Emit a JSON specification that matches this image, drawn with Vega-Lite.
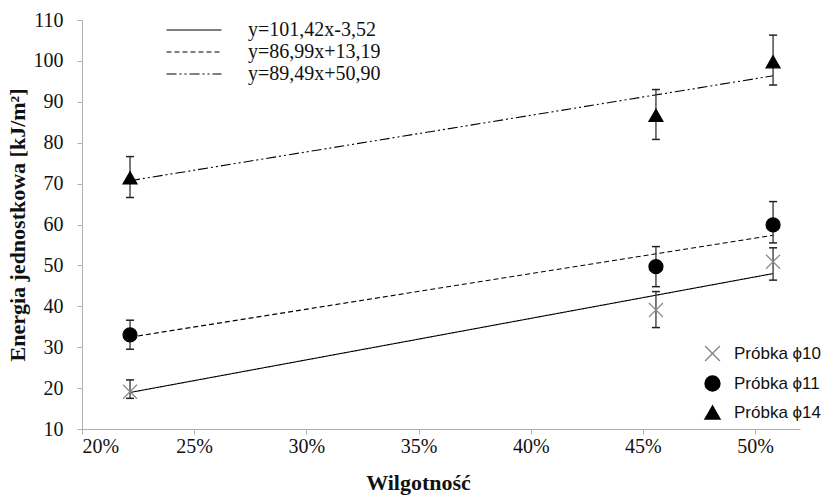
{
  "$schema": "https://vega.github.io/schema/vega-lite/v6.json",
  "width": 718,
  "height": 409,
  "autosize": {"type": "none"},
  "padding": {"left": 82, "top": 20, "right": 28, "bottom": 74},
  "background": "white",
  "config": {
    "view": {"stroke": null},
    "font": "Liberation Serif",
    "axis": {
      "grid": false,
      "domainColor": "#b0b0b0",
      "tickColor": "#b0b0b0",
      "tickSize": 5,
      "labelFont": "Liberation Serif",
      "labelFontSize": 20,
      "labelColor": "#111",
      "titleFont": "Liberation Serif",
      "titleFontSize": 22,
      "titleFontWeight": "bold",
      "titleColor": "#111"
    }
  },
  "datasets": {
    "pts": [
      {"series": "Próbka ϕ10", "x": 0.2214, "y": 19.1, "lo": 17.5, "hi": 22.0},
      {"series": "Próbka ϕ10", "x": 0.4558, "y": 39.1, "lo": 34.8, "hi": 43.6},
      {"series": "Próbka ϕ10", "x": 0.508, "y": 50.9, "lo": 46.4, "hi": 54.3},
      {"series": "Próbka ϕ11", "x": 0.2214, "y": 33.0, "lo": 29.5, "hi": 36.6},
      {"series": "Próbka ϕ11", "x": 0.4558, "y": 49.7, "lo": 44.8, "hi": 54.6},
      {"series": "Próbka ϕ11", "x": 0.508, "y": 59.9, "lo": 55.5, "hi": 65.6},
      {"series": "Próbka ϕ14", "x": 0.2214, "y": 71.4, "lo": 66.6, "hi": 76.6},
      {"series": "Próbka ϕ14", "x": 0.4558, "y": 86.7, "lo": 80.8, "hi": 93.0},
      {"series": "Próbka ϕ14", "x": 0.508, "y": 99.8, "lo": 94.1, "hi": 106.3}
    ],
    "trend": [
      {"eq": "y=101,42x-3,52", "x": 0.2214, "y": 18.93},
      {"eq": "y=101,42x-3,52", "x": 0.508, "y": 48.0},
      {"eq": "y=86,99x+13,19", "x": 0.2214, "y": 32.45},
      {"eq": "y=86,99x+13,19", "x": 0.508, "y": 57.38},
      {"eq": "y=89,49x+50,90", "x": 0.2214, "y": 70.71},
      {"eq": "y=89,49x+50,90", "x": 0.508, "y": 96.36}
    ]
  },
  "layer": [
    {
      "data": {"name": "trend"},
      "mark": {"type": "line", "color": "black", "strokeWidth": 1.1},
      "encoding": {
        "x": {
          "field": "x", "type": "quantitative",
          "scale": {"domain": [0.2, 0.52], "nice": false, "zero": false},
          "axis": {"values": [0.2, 0.25, 0.3, 0.35, 0.4, 0.45, 0.5], "format": ".0%", "labelFont": "Liberation Serif", "labelFontSize": 20, "labelPadding": 2, "title": "Wilgotność", "titlePadding": 16, "titleX": 336, "titleAlign": "center"}
        },
        "y": {
          "field": "y", "type": "quantitative",
          "scale": {"domain": [10, 110], "nice": false, "zero": false},
          "axis": {"values": [10, 20, 30, 40, 50, 60, 70, 80, 90, 100, 110], "labelFont": "Liberation Serif", "labelFontSize": 20, "labelPadding": 14, "title": "Energia jednostkowa [kJ/m²]", "titlePadding": 4}
        },
        "detail": {"field": "eq"},
        "strokeDash": {
          "field": "eq", "type": "nominal",
          "scale": {"domain": ["y=101,42x-3,52", "y=86,99x+13,19", "y=89,49x+50,90"], "range": [[1, 0], [5, 3], [10, 3, 2, 3, 2, 3]]},
          "legend": {
            "title": null, "orient": "none", "legendX": 102, "legendY": 0,
            "symbolType": "M-5,0L5,0", "symbolSize": 121, "symbolStrokeColor": "black", "symbolStrokeWidth": 1.1,
            "labelFont": "Liberation Serif", "labelFontSize": 20, "labelColor": "#111", "labelOffset": 44,
            "rowPadding": 2, "padding": 0, "labelLimit": 300
          }
        }
      }
    },
    {
      "data": {"name": "pts"},
      "mark": {"type": "rule", "color": "#333", "strokeWidth": 1.3},
      "encoding": {
        "x": {"field": "x", "type": "quantitative"},
        "y": {"field": "lo", "type": "quantitative"},
        "y2": {"field": "hi"}
      }
    },
    {
      "data": {"name": "pts"},
      "mark": {"type": "point", "shape": "stroke", "size": 64, "color": "#222", "strokeWidth": 1.5, "opacity": 1},
      "encoding": {
        "x": {"field": "x", "type": "quantitative"},
        "y": {"field": "lo", "type": "quantitative"}
      }
    },
    {
      "data": {"name": "pts"},
      "mark": {"type": "point", "shape": "stroke", "size": 64, "color": "#222", "strokeWidth": 1.5, "opacity": 1},
      "encoding": {
        "x": {"field": "x", "type": "quantitative"},
        "y": {"field": "hi", "type": "quantitative"}
      }
    },
    {
      "data": {"name": "pts"},
      "mark": {"type": "point", "size": 196, "strokeWidth": 1.2, "opacity": 1},
      "encoding": {
        "x": {"field": "x", "type": "quantitative"},
        "y": {"field": "y", "type": "quantitative"},
        "shape": {
          "field": "series", "type": "nominal",
          "scale": {"domain": ["Próbka ϕ10", "Próbka ϕ11", "Próbka ϕ14"], "range": ["M-1,-1L1,1M1,-1L-1,1", "circle", "triangle-up"]},
          "legend": {
            "title": null, "orient": "none", "legendX": 622, "legendY": 325,
            "symbolSize": 220, "symbolStrokeWidth": 1.5,
            "labelFont": "Liberation Sans", "labelFontSize": 17, "labelColor": "#111", "labelOffset": 13,
            "rowPadding": 9, "padding": 0,
            "encode": {"symbols": {"update": {"stroke": {"value": "black"}}}}
          }
        },
        "fill": {
          "field": "series", "type": "nominal",
          "scale": {"domain": ["Próbka ϕ10", "Próbka ϕ11", "Próbka ϕ14"], "range": ["transparent", "black", "black"]}
        },
        "stroke": {
          "field": "series", "type": "nominal",
          "scale": {"domain": ["Próbka ϕ10", "Próbka ϕ11", "Próbka ϕ14"], "range": ["#8a8a8a", "black", "black"]}
        }
      }
    }
  ]
}
